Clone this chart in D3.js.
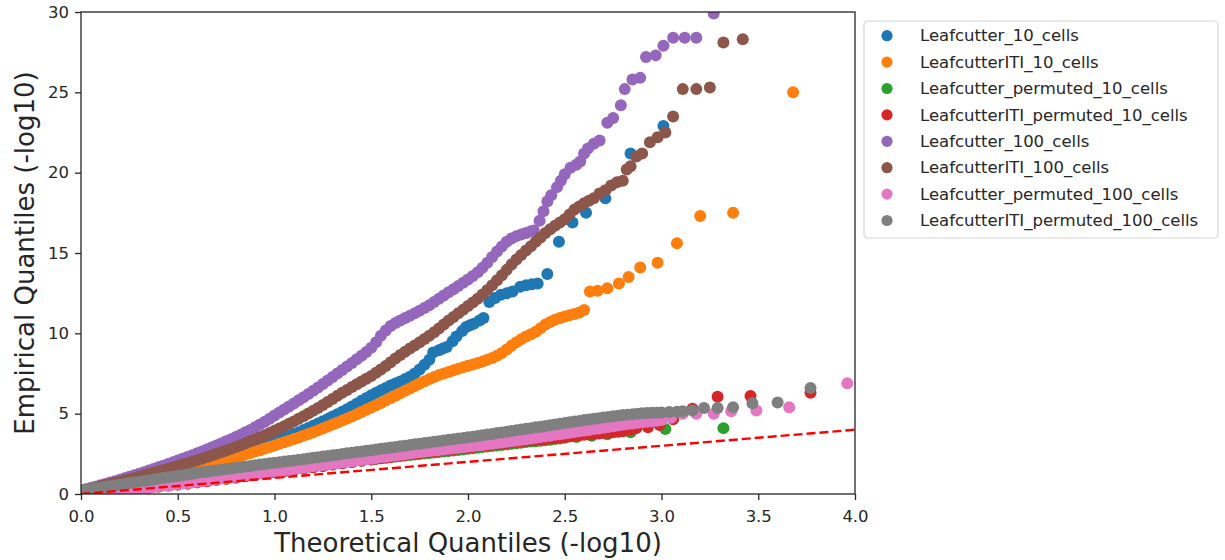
<!DOCTYPE html>
<html>
<head>
<meta charset="utf-8">
<script src="https://cdn.jsdelivr.net/npm/d3@7"></script>
<style>
  body { margin: 0; background: #fff; }
  svg text { font-family: "DejaVu Sans", sans-serif; fill: #262626; }
</style>
</head>
<body>
<svg id="chart" width="1225" height="560"></svg>
<script>
// [theoretical, empirical] quantiles (-log10)
const leafcutter10 = [
  [0.000,0.15],[0.025,0.21],[0.050,0.27],[0.075,0.33],[0.100,0.39],[0.125,0.45],[0.150,0.51],[0.175,0.57],
  [0.200,0.63],[0.225,0.69],[0.250,0.76],[0.275,0.82],[0.300,0.89],[0.325,0.95],[0.350,1.02],[0.375,1.09],
  [0.400,1.16],[0.425,1.23],[0.450,1.30],[0.475,1.37],[0.500,1.45],[0.525,1.52],[0.550,1.60],[0.575,1.68],
  [0.600,1.76],[0.625,1.84],[0.650,1.92],[0.675,2.00],[0.700,2.09],[0.725,2.17],[0.750,2.26],[0.775,2.35],
  [0.800,2.44],[0.825,2.53],[0.850,2.63],[0.875,2.73],[0.900,2.83],[0.925,2.93],[0.950,3.04],[0.975,3.15],
  [1.000,3.26],[1.025,3.37],[1.050,3.49],[1.075,3.61],[1.100,3.73],[1.125,3.85],[1.150,3.98],[1.175,4.11],
  [1.200,4.25],[1.225,4.39],[1.250,4.53],[1.275,4.67],[1.300,4.82],[1.325,4.97],[1.350,5.12],[1.375,5.28],
  [1.400,5.45],[1.425,5.62],[1.450,5.80],[1.475,5.98],[1.500,6.15],[1.525,6.30],[1.550,6.45],[1.575,6.60],
  [1.600,6.75],[1.625,6.88],[1.650,7.00],[1.675,7.15],[1.700,7.30],[1.725,7.50],[1.750,7.75],[1.775,8.05],
  [1.800,8.35],[1.820,8.80],[1.850,8.95],[1.870,9.05],[1.890,9.15],[1.920,9.50],[1.940,9.80],[1.970,10.15],
  [1.990,10.40],[2.010,10.50],[2.030,10.60],[2.060,10.80],[2.080,10.95],
  [2.11,11.95],[2.14,12.20],[2.17,12.40],[2.20,12.50],[2.23,12.60],[2.27,12.90],[2.30,13.00],
  [2.33,13.05],[2.36,13.10],[2.41,13.70],[2.47,15.70],[2.54,16.90],[2.61,17.50],[2.71,18.40],
  [2.84,21.20],[3.01,22.90]
];
const leafcutterITI10 = [
  [0.000,0.15],[0.025,0.20],[0.050,0.26],[0.075,0.31],[0.100,0.37],[0.125,0.42],[0.150,0.48],[0.175,0.54],
  [0.200,0.60],[0.225,0.66],[0.250,0.72],[0.275,0.78],[0.300,0.84],[0.325,0.90],[0.350,0.96],[0.375,1.02],
  [0.400,1.09],[0.425,1.15],[0.450,1.22],[0.475,1.29],[0.500,1.36],[0.525,1.43],[0.550,1.50],[0.575,1.57],
  [0.600,1.64],[0.625,1.71],[0.650,1.79],[0.675,1.87],[0.700,1.95],[0.725,2.03],[0.750,2.11],[0.775,2.19],
  [0.800,2.28],[0.825,2.37],[0.850,2.46],[0.875,2.55],[0.900,2.64],[0.925,2.73],[0.950,2.83],[0.975,2.92],
  [1.000,3.02],[1.025,3.12],[1.050,3.22],[1.075,3.32],[1.100,3.42],[1.125,3.52],[1.150,3.63],[1.175,3.74],
  [1.200,3.85],[1.225,3.96],[1.250,4.08],[1.275,4.20],[1.300,4.32],[1.325,4.44],[1.350,4.57],[1.375,4.70],
  [1.400,4.83],[1.425,4.96],[1.450,5.10],[1.475,5.24],[1.500,5.38],[1.525,5.52],[1.550,5.67],[1.575,5.82],
  [1.600,5.97],[1.625,6.12],[1.650,6.27],[1.675,6.42],[1.700,6.57],[1.725,6.72],[1.750,6.87],[1.775,7.01],
  [1.800,7.15],[1.825,7.28],[1.850,7.40],[1.875,7.50],[1.900,7.60],[1.925,7.70],[1.950,7.80],[1.975,7.89],
  [2.000,7.98],[2.025,8.06],[2.050,8.15],[2.075,8.25],[2.100,8.35],[2.125,8.46],[2.150,8.60],[2.175,8.78],
  [2.200,9.00],[2.225,9.22],[2.250,9.45],[2.275,9.63],[2.300,9.80],[2.325,9.95],[2.350,10.10],[2.375,10.32],
  [2.400,10.55],[2.425,10.70],[2.450,10.85],[2.475,10.95],[2.500,11.05],[2.525,11.12],[2.550,11.20],
  [2.575,11.30],[2.600,11.45],
  [2.63,12.60],[2.67,12.65],[2.72,12.80],[2.78,13.10],[2.83,13.50],[2.89,14.10],[2.98,14.40],
  [3.08,15.60],[3.20,17.30],[3.37,17.50],[3.68,25.00]
];
const leafcutterPermuted10 = [
  [0.00,0.00],[0.05,0.05],[0.10,0.10],[0.15,0.15],[0.20,0.21],[0.25,0.27],[0.30,0.33],[0.35,0.39],
  [0.40,0.46],[0.45,0.53],[0.50,0.59],[0.55,0.66],[0.60,0.73],[0.65,0.80],[0.70,0.88],[0.75,0.95],
  [0.80,1.03],[0.85,1.11],[0.90,1.19],[0.95,1.27],[1.00,1.35],[1.05,1.43],[1.10,1.51],[1.15,1.59],
  [1.20,1.67],[1.25,1.75],[1.30,1.83],[1.35,1.91],[1.40,1.99],[1.45,2.07],[1.500,2.15],[1.525,2.19],
  [1.550,2.22],[1.575,2.26],[1.600,2.29],[1.625,2.33],[1.650,2.36],[1.675,2.40],[1.700,2.43],[1.725,2.46],
  [1.750,2.49],[1.775,2.52],[1.800,2.55],[1.825,2.58],[1.850,2.61],[1.875,2.64],[1.900,2.67],[1.925,2.70],
  [1.950,2.74],[1.975,2.77],[2.000,2.81],[2.025,2.85],[2.050,2.88],[2.075,2.92],[2.100,2.95],[2.125,2.98],
  [2.150,3.02],[2.175,3.05],[2.200,3.09],[2.225,3.12],[2.250,3.16],[2.275,3.19],[2.300,3.23],[2.325,3.26],
  [2.350,3.29],[2.375,3.32],[2.400,3.35],[2.425,3.38],[2.450,3.42],[2.475,3.46],[2.500,3.50],
  [2.56,3.55],[2.64,3.62],[2.72,3.72],[2.84,3.85],[3.02,4.05],[3.32,4.10]
];
const leafcutterITIPermuted10 = [
  [0.00,0.00],[0.05,0.05],[0.10,0.10],[0.15,0.15],[0.20,0.21],[0.25,0.27],[0.30,0.33],[0.35,0.39],
  [0.40,0.46],[0.45,0.53],[0.50,0.59],[0.55,0.66],[0.60,0.73],[0.65,0.80],[0.70,0.88],[0.75,0.95],
  [0.80,1.03],[0.85,1.11],[0.90,1.19],[0.95,1.27],[1.00,1.35],[1.05,1.43],[1.10,1.51],[1.15,1.59],
  [1.20,1.67],[1.25,1.75],[1.30,1.83],[1.35,1.91],[1.40,1.99],[1.45,2.07],[1.500,2.15],[1.525,2.19],
  [1.550,2.23],[1.575,2.27],[1.600,2.31],[1.625,2.35],[1.650,2.39],[1.675,2.43],[1.700,2.47],[1.725,2.51],
  [1.750,2.55],[1.775,2.58],[1.800,2.62],[1.825,2.65],[1.850,2.69],[1.875,2.72],[1.900,2.76],[1.925,2.79],
  [1.950,2.83],[1.975,2.86],[2.000,2.90],[2.025,2.93],[2.050,2.97],[2.075,3.00],[2.100,3.04],[2.125,3.07],
  [2.150,3.11],[2.175,3.14],[2.200,3.18],[2.225,3.21],[2.250,3.25],[2.275,3.28],[2.300,3.31],[2.325,3.34],
  [2.350,3.37],[2.375,3.40],[2.400,3.43],[2.425,3.46],[2.450,3.49],[2.475,3.52],[2.500,3.55],[2.525,3.58],
  [2.550,3.62],[2.575,3.65],[2.600,3.68],[2.625,3.71],[2.650,3.74],[2.675,3.76],[2.700,3.79],[2.725,3.81],
  [2.750,3.84],[2.775,3.87],
  [2.80,3.90],[2.84,4.00],[2.87,4.10],[2.93,4.15],[2.99,4.30],[3.06,4.65],[3.16,5.30],
  [3.29,6.05],[3.46,6.10],[3.77,6.30]
];
const leafcutter100 = [
  [0.000,0.20],[0.025,0.28],[0.050,0.37],[0.075,0.45],[0.100,0.54],[0.125,0.62],[0.150,0.71],[0.175,0.80],
  [0.200,0.89],[0.225,0.98],[0.250,1.07],[0.275,1.16],[0.300,1.26],[0.325,1.36],[0.350,1.46],[0.375,1.56],
  [0.400,1.66],[0.425,1.76],[0.450,1.87],[0.475,1.97],[0.500,2.08],[0.525,2.19],[0.550,2.30],[0.575,2.41],
  [0.600,2.53],[0.625,2.65],[0.650,2.77],[0.675,2.89],[0.700,3.02],[0.725,3.15],[0.750,3.28],[0.775,3.41],
  [0.800,3.55],[0.825,3.69],[0.850,3.84],[0.875,3.99],[0.900,4.15],[0.925,4.32],[0.950,4.50],[0.975,4.69],
  [1.000,4.88],[1.025,5.07],[1.050,5.26],[1.075,5.45],[1.100,5.64],[1.125,5.83],[1.150,6.02],[1.175,6.22],
  [1.200,6.42],[1.225,6.63],[1.250,6.84],[1.275,7.06],[1.300,7.28],[1.325,7.50],[1.350,7.72],[1.375,7.94],
  [1.400,8.16],[1.425,8.38],[1.450,8.60],[1.475,8.84],[1.500,9.10],[1.525,9.45],[1.550,9.85],[1.575,10.18],
  [1.600,10.45],[1.625,10.64],[1.650,10.80],[1.675,10.95],[1.700,11.10],[1.725,11.25],[1.750,11.40],
  [1.775,11.57],[1.800,11.75],[1.825,11.95],[1.850,12.15],[1.875,12.35],[1.900,12.55],[1.925,12.75],
  [1.950,12.95],[1.975,13.15],[2.000,13.35],[2.025,13.57],[2.050,13.80],[2.075,14.08],[2.100,14.40],
  [2.125,14.75],[2.150,15.10],[2.175,15.40],[2.200,15.70],[2.225,15.90],[2.250,16.05],[2.275,16.15],
  [2.300,16.25],[2.325,16.35],
  [2.34,16.40],[2.37,17.00],[2.39,17.60],[2.41,18.20],[2.43,18.60],[2.46,19.10],[2.48,19.50],[2.50,19.90],
  [2.53,20.30],[2.56,20.50],[2.58,20.70],[2.60,21.20],[2.62,21.50],[2.65,21.80],[2.68,22.00],[2.72,23.10],
  [2.75,23.40],[2.79,24.20],[2.81,25.20],[2.85,25.80],[2.89,25.90],[2.92,27.20],[2.97,27.30],[3.01,27.90],
  [3.06,28.40],[3.12,28.40],[3.18,28.40],[3.27,29.90]
];
const leafcutterITI100 = [
  [0.000,0.20],[0.025,0.27],[0.050,0.34],[0.075,0.41],[0.100,0.48],[0.125,0.55],[0.150,0.62],[0.175,0.70],
  [0.200,0.77],[0.225,0.85],[0.250,0.92],[0.275,1.00],[0.300,1.08],[0.325,1.16],[0.350,1.24],[0.375,1.32],
  [0.400,1.40],[0.425,1.48],[0.450,1.57],[0.475,1.65],[0.500,1.74],[0.525,1.83],[0.550,1.92],[0.575,2.01],
  [0.600,2.10],[0.625,2.20],[0.650,2.30],[0.675,2.40],[0.700,2.50],[0.725,2.60],[0.750,2.71],[0.775,2.82],
  [0.800,2.93],[0.825,3.04],[0.850,3.16],[0.875,3.28],[0.900,3.40],[0.925,3.53],[0.950,3.66],[0.975,3.79],
  [1.000,3.93],[1.025,4.07],[1.050,4.22],[1.075,4.37],[1.100,4.52],[1.125,4.68],[1.150,4.84],[1.175,5.01],
  [1.200,5.18],[1.225,5.36],[1.250,5.54],[1.275,5.73],[1.300,5.92],[1.325,6.11],[1.350,6.30],[1.375,6.48],
  [1.400,6.66],[1.425,6.83],[1.450,7.00],[1.475,7.17],[1.500,7.35],[1.525,7.55],[1.550,7.75],[1.575,7.97],
  [1.600,8.20],[1.625,8.43],[1.650,8.65],[1.675,8.85],[1.700,9.05],[1.725,9.25],[1.750,9.45],[1.775,9.65],
  [1.800,9.85],[1.825,10.07],[1.850,10.30],[1.875,10.55],[1.900,10.80],[1.925,11.02],[1.950,11.25],
  [1.975,11.47],[2.000,11.70],[2.025,11.92],[2.050,12.15],[2.075,12.42],[2.100,12.70],[2.125,13.00],
  [2.150,13.30],[2.175,13.62],[2.200,13.95],[2.225,14.28],[2.250,14.60],[2.275,14.88],[2.300,15.15],
  [2.325,15.42],[2.350,15.70],[2.375,15.97],[2.400,16.25],[2.425,16.48],[2.450,16.70],[2.475,16.90],
  [2.500,17.10],[2.525,17.40],[2.550,17.70],[2.575,17.90],[2.600,18.10],[2.625,18.25],[2.650,18.40],
  [2.68,18.70],[2.71,18.90],[2.74,19.20],[2.77,19.40],[2.80,19.50],[2.82,20.20],[2.84,20.40],[2.87,21.00],
  [2.90,21.20],[2.94,21.90],[2.98,22.20],[3.02,22.50],[3.06,23.50],[3.11,25.20],[3.18,25.20],[3.25,25.30],
  [3.32,28.10],[3.42,28.30]
];
const leafcutterPermuted100 = [
  [0.000,0.00],[0.025,0.02],[0.050,0.05],[0.075,0.07],[0.100,0.10],[0.125,0.13],[0.150,0.16],[0.175,0.19],
  [0.200,0.22],[0.225,0.25],[0.250,0.28],[0.275,0.31],[0.300,0.34],[0.325,0.37],[0.350,0.41],[0.375,0.44],
  [0.400,0.48],[0.425,0.51],[0.450,0.55],[0.475,0.58],[0.500,0.62],[0.525,0.65],[0.550,0.69],[0.575,0.72],
  [0.600,0.76],[0.625,0.80],[0.650,0.84],[0.675,0.88],[0.700,0.92],[0.725,0.96],[0.750,1.00],[0.775,1.04],
  [0.800,1.08],[0.825,1.12],[0.850,1.16],[0.875,1.20],[0.900,1.24],[0.925,1.28],[0.950,1.32],[0.975,1.36],
  [1.000,1.40],[1.025,1.44],[1.050,1.48],[1.075,1.52],[1.100,1.56],[1.125,1.60],[1.150,1.64],[1.175,1.68],
  [1.200,1.72],[1.225,1.76],[1.250,1.80],[1.275,1.84],[1.300,1.88],[1.325,1.92],[1.350,1.96],[1.375,2.00],
  [1.400,2.04],[1.425,2.08],[1.450,2.12],[1.475,2.16],[1.500,2.20],[1.525,2.24],[1.550,2.28],[1.575,2.32],
  [1.600,2.36],[1.625,2.40],[1.650,2.44],[1.675,2.48],[1.700,2.52],[1.725,2.56],[1.750,2.60],[1.775,2.63],
  [1.800,2.67],[1.825,2.70],[1.850,2.74],[1.875,2.77],[1.900,2.81],[1.925,2.84],[1.950,2.88],[1.975,2.91],
  [2.000,2.95],[2.025,2.98],[2.050,3.02],[2.075,3.05],[2.100,3.09],[2.125,3.13],[2.150,3.17],[2.175,3.21],
  [2.200,3.25],[2.225,3.29],[2.250,3.33],[2.275,3.37],[2.300,3.41],[2.325,3.45],[2.350,3.50],[2.375,3.54],
  [2.400,3.59],[2.425,3.63],[2.450,3.68],[2.475,3.72],[2.500,3.77],[2.525,3.81],[2.550,3.86],[2.575,3.90],
  [2.600,3.95],[2.625,3.99],[2.650,4.04],[2.675,4.08],[2.700,4.13],[2.725,4.17],[2.750,4.22],[2.775,4.26],
  [2.800,4.31],[2.825,4.35],[2.850,4.39],[2.875,4.43],[2.900,4.46],[2.925,4.49],[2.950,4.52],[2.975,4.56],
  [3.000,4.60],
  [3.05,4.75],[3.11,5.00],[3.18,5.00],[3.27,5.00],[3.36,5.15],[3.49,5.20],[3.66,5.40],[3.96,6.90]
];
const leafcutterITIPermuted100 = [
  [0.000,0.25],[0.025,0.29],[0.050,0.33],[0.075,0.37],[0.100,0.41],[0.125,0.45],[0.150,0.50],[0.175,0.54],
  [0.200,0.59],[0.225,0.63],[0.250,0.68],[0.275,0.72],[0.300,0.77],[0.325,0.81],[0.350,0.86],[0.375,0.90],
  [0.400,0.95],[0.425,0.99],[0.450,1.04],[0.475,1.08],[0.500,1.12],[0.525,1.17],[0.550,1.21],[0.575,1.26],
  [0.600,1.30],[0.625,1.35],[0.650,1.39],[0.675,1.43],[0.700,1.47],[0.725,1.51],[0.750,1.55],[0.775,1.59],
  [0.800,1.63],[0.825,1.67],[0.850,1.71],[0.875,1.75],[0.900,1.79],[0.925,1.83],[0.950,1.87],[0.975,1.91],
  [1.000,1.95],[1.025,1.98],[1.050,2.02],[1.075,2.05],[1.100,2.09],[1.125,2.13],[1.150,2.17],[1.175,2.21],
  [1.200,2.25],[1.225,2.29],[1.250,2.33],[1.275,2.37],[1.300,2.41],[1.325,2.45],[1.350,2.49],[1.375,2.53],
  [1.400,2.57],[1.425,2.61],[1.450,2.65],[1.475,2.69],[1.500,2.73],[1.525,2.77],[1.550,2.81],[1.575,2.85],
  [1.600,2.89],[1.625,2.93],[1.650,2.97],[1.675,3.01],[1.700,3.05],[1.725,3.09],[1.750,3.13],[1.775,3.17],
  [1.800,3.21],[1.825,3.25],[1.850,3.29],[1.875,3.33],[1.900,3.37],[1.925,3.41],[1.950,3.45],[1.975,3.49],
  [2.000,3.53],[2.025,3.57],[2.050,3.61],[2.075,3.65],[2.100,3.70],[2.125,3.74],[2.150,3.79],[2.175,3.83],
  [2.200,3.88],[2.225,3.92],[2.250,3.97],[2.275,4.01],[2.300,4.06],[2.325,4.10],[2.350,4.15],[2.375,4.19],
  [2.400,4.24],[2.425,4.28],[2.450,4.33],[2.475,4.37],[2.500,4.42],[2.525,4.46],[2.550,4.51],[2.575,4.55],
  [2.600,4.60],[2.625,4.64],[2.650,4.68],[2.675,4.72],[2.700,4.76],[2.725,4.80],[2.750,4.84],[2.775,4.87],
  [2.800,4.91],[2.825,4.94],[2.850,4.97],[2.875,5.00],[2.900,5.02],[2.925,5.04],[2.950,5.05],[2.975,5.06],
  [3.000,5.07],
  [3.04,5.10],[3.08,5.12],[3.11,5.15],[3.16,5.20],[3.22,5.35],[3.29,5.35],[3.37,5.40],[3.47,5.65],
  [3.60,5.70],[3.77,6.60]
];

const seriesNames = [
  "Leafcutter_10_cells", "LeafcutterITI_10_cells", "Leafcutter_permuted_10_cells",
  "LeafcutterITI_permuted_10_cells", "Leafcutter_100_cells", "LeafcutterITI_100_cells",
  "Leafcutter_permuted_100_cells", "LeafcutterITI_permuted_100_cells"
];
const seriesValues = [
  leafcutter10, leafcutterITI10, leafcutterPermuted10, leafcutterITIPermuted10,
  leafcutter100, leafcutterITI100, leafcutterPermuted100, leafcutterITIPermuted100
];
const seriesColors = ["#1f77b4", "#ff7f0e", "#2ca02c", "#d62728", "#9467bd", "#8c564b", "#e377c2", "#7f7f7f"];
const xTicks = [0, 0.5, 1, 1.5, 2, 2.5, 3, 3.5, 4];
const yTicks = [0, 5, 10, 15, 20, 25, 30];
const referenceLine = [[0, 0], [4, 4]];

const margin = { top: 12, right: 370, bottom: 66, left: 81 };
const width = 1225, height = 560;
const plotW = width - margin.left - margin.right;
const plotH = height - margin.top - margin.bottom;
const radius = 6;

const svg = d3.select('#chart');

const xScale = d3.scaleLinear().domain([0, 4]).range([margin.left, margin.left + plotW]);
const yScale = d3.scaleLinear().domain([0, 30]).range([margin.top + plotH, margin.top]);

svg.append('defs').append('clipPath').attr('id', 'plot-clip')
    .append('rect')
    .attr('x', margin.left).attr('y', margin.top)
    .attr('width', plotW).attr('height', plotH);

const plot = svg.append('g').attr('clip-path', 'url(#plot-clip)');

seriesValues.forEach((values, i) => {
    plot.append('g')
        .selectAll('circle')
        .data(values)
        .join('circle')
        .attr('cx', (d) => xScale(d[0]))
        .attr('cy', (d) => yScale(d[1]))
        .attr('r', radius)
        .attr('fill', seriesColors[i]);
});

// y = x reference
plot.append('path')
    .attr('d', d3.line().x((d) => xScale(d[0])).y((d) => yScale(d[1]))(referenceLine))
    .attr('fill', 'none')
    .attr('stroke', '#ff0000')
    .attr('stroke-width', 2.4)
    .attr('stroke-dasharray', '9,4');

// Axes
const xAxis = svg.append('g')
    .attr('transform', `translate(0, ${margin.top + plotH})`)
    .call(d3.axisBottom(xScale).tickValues(xTicks).tickFormat(d3.format('.1f')).tickSize(6).tickSizeOuter(0).tickPadding(6));

const yAxis = svg.append('g')
    .attr('transform', `translate(${margin.left}, 0)`)
    .call(d3.axisLeft(yScale).tickValues(yTicks).tickSize(6).tickSizeOuter(0).tickPadding(6));

[xAxis, yAxis].forEach((ax) => {
    ax.select('.domain').remove();
    ax.selectAll('line').attr('stroke', '#262626').attr('stroke-width', 1.3);
    ax.selectAll('text').attr('font-size', '16.5px').attr('fill', '#262626');
});
xAxis.selectAll('text').attr('dy', '0.95em');

// frame
svg.append('rect')
    .attr('x', margin.left).attr('y', margin.top)
    .attr('width', plotW).attr('height', plotH)
    .attr('fill', 'none').attr('stroke', '#262626').attr('stroke-width', 1.3);

svg.append('text')
    .attr('x', margin.left + plotW / 2)
    .attr('y', 552)
    .attr('text-anchor', 'middle')
    .attr('font-size', '26px')
    .text('Theoretical Quantiles (-log10)');

svg.append('text')
    .attr('transform', `translate(34, ${margin.top + plotH / 2}) rotate(-90)`)
    .attr('text-anchor', 'middle')
    .attr('font-size', '26px')
    .text('Empirical Quantiles (-log10)');

// Legend
const legend = svg.append('g').attr('transform', 'translate(864, 21)');
legend.append('rect')
    .attr('width', 354).attr('height', 217).attr('rx', 4)
    .attr('fill', '#fff').attr('stroke', '#d6d6d6').attr('stroke-width', 1.2);

const rows = legend.selectAll('g.row')
    .data(seriesNames)
    .join('g')
    .attr('class', 'row')
    .attr('transform', (d, i) => `translate(0, ${14.7 + i * 26.4})`);

rows.append('circle').attr('cx', 23).attr('r', 5.6).attr('fill', (d, i) => seriesColors[i]);
rows.append('text')
    .attr('x', 56)
    .attr('dy', '0.35em')
    .attr('font-size', '16.5px')
    .text((d) => d);
</script>
</body>
</html>
